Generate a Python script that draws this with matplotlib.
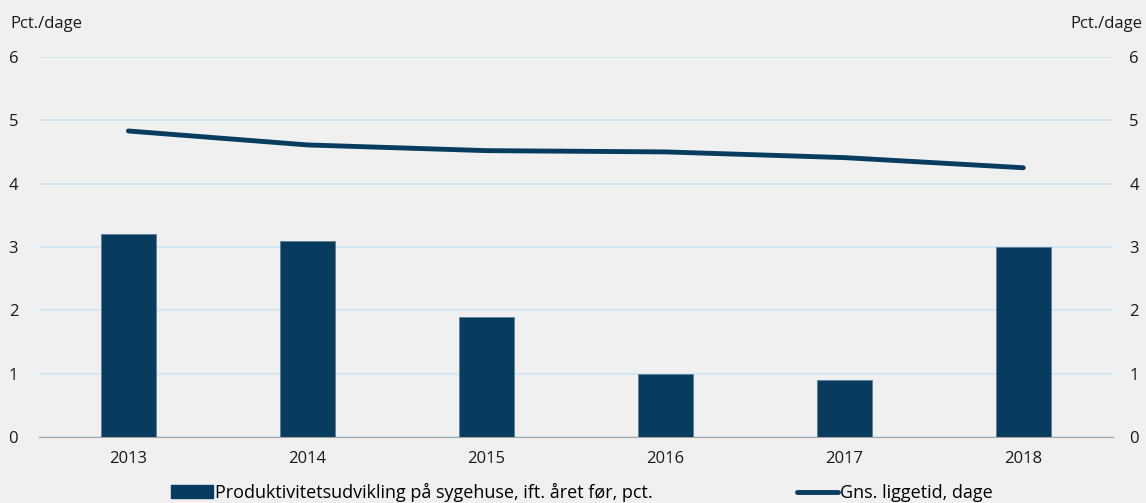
import matplotlib.pyplot as plt
from matplotlib.patches import Patch
from matplotlib.lines import Line2D

plt.rcParams["font.family"] = ["Open Sans", "DejaVu Sans"]

years = ['2013', '2014', '2015', '2016', '2017', '2018']
produktivitet = [3.2, 3.1, 1.9, 1.0, 0.9, 3.0]
liggetid = [4.83, 4.61, 4.52, 4.50, 4.41, 4.25]

navy = '#073c5e'
bg = '#f0f0f0'
grid_col = '#cfe6f6'

fig = plt.figure(figsize=(11.46, 5.03), dpi=100, facecolor=bg)
ax = fig.add_axes([0.034, 0.131, 0.937, 0.756])
ax.set_facecolor(bg)

x = range(len(years))
ax.bar(x, produktivitet, width=0.31, color=navy, edgecolor='#5c7f99', linewidth=0.6, zorder=3)
ax.plot(x, liggetid, color=navy, linewidth=3.5, solid_capstyle='round', zorder=4)

ax.set_xlim(-0.5, 5.5)
ax.set_ylim(0, 6)
ax.set_yticks(range(0, 7))
ax.set_xticks(list(x))
ax.set_xticklabels(years, fontsize=12)
ax.yaxis.grid(True, color=grid_col, linewidth=1.2, zorder=0)
ax.tick_params(axis='both', length=0, labelsize=12, colors='#1a1a1a')
ax.tick_params(axis='x', pad=10)
ax.tick_params(axis='y', pad=15)
for s in ['top', 'right', 'left']:
    ax.spines[s].set_visible(False)
ax.spines['bottom'].set_color('#a6a6a6')

ax2 = ax.twinx()
ax2.set_ylim(0, 6)
ax2.set_yticks(range(0, 7))
ax2.tick_params(axis='y', length=0, labelsize=12, pad=12, colors='#1a1a1a')
for s in ax2.spines.values():
    s.set_visible(False)

fig.text(0.009, 0.952, 'Pct./dage', fontsize=12, ha='left', va='center', color='#1a1a1a')
fig.text(0.997, 0.952, 'Pct./dage', fontsize=12, ha='right', va='center', color='#1a1a1a')

handles = [Patch(facecolor=navy, edgecolor=navy),
           Line2D([0], [0], color=navy, linewidth=3.5, solid_capstyle='round')]
labels = ['Produktivitetsudvikling på sygehuse, ift. året før, pct.', 'Gns. liggetid, dage']
fig.legend(handles, labels, loc='lower center', bbox_to_anchor=(0.508, -0.03), ncol=2,
           frameon=False, fontsize=13, handlelength=2.3, handletextpad=0.1, columnspacing=8)

plt.savefig('out.png', facecolor=bg)
